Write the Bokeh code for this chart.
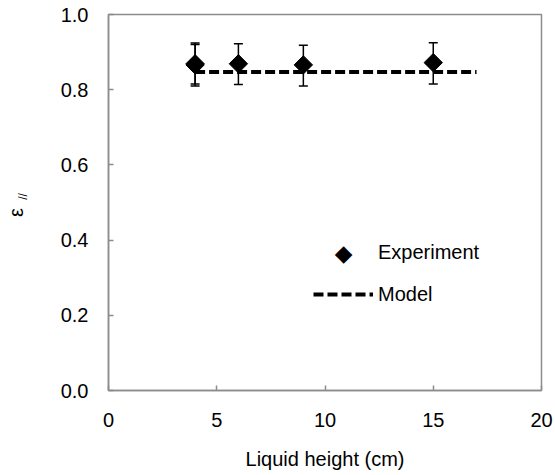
import math
from bokeh.plotting import figure
from bokeh.models import (ColumnDataSource, Whisker, TeeHead, Legend, LegendItem, Label,
                          FixedTicker, Range1d, LinearAxis)
from bokeh.embed import file_html
from bokeh.resources import INLINE

# data
exp_x = [4, 4, 6, 9, 15]
exp_y = [0.866, 0.869, 0.869, 0.866, 0.872]
exp_upper = [0.924, 0.920, 0.922, 0.918, 0.925]
exp_lower = [0.810, 0.815, 0.814, 0.810, 0.815]
model_x = [4, 17]
model_y = [0.847, 0.847]
x_ticks = [0, 5, 10, 15, 20]
y_ticks = [0.0, 0.2, 0.4, 0.6, 0.8, 1.0]
y_tick_labels = {0.0: "0.0", 0.2: "0.2", 0.4: "0.4", 0.6: "0.6", 0.8: "0.8", 1.0: "1.0"}

FONT = "Liberation Sans"
GRAY = "#8c8c8c"

p = figure(width=555, height=475, output_backend="svg", toolbar_location=None,
           x_range=Range1d(0, 20), y_range=Range1d(0, 1.0),
           min_border_left=108, min_border_right=14, min_border_top=14, min_border_bottom=85)
p.xgrid.visible = False
p.ygrid.visible = False
p.outline_line_color = GRAY
p.outline_line_width = 1.5

src = ColumnDataSource(dict(x=exp_x, y=exp_y, upper=exp_upper, lower=exp_lower))

w = Whisker(base="x", upper="upper", lower="lower", source=src, dimension="height",
            line_color="black", line_width=1.5,
            upper_head=TeeHead(size=9, line_color="black", line_width=1.5),
            lower_head=TeeHead(size=9, line_color="black", line_width=1.5))
p.add_layout(w)

model_r = p.line(model_x, model_y, line_color="black", line_width=4, line_dash="10 4")
exp_r = p.scatter("x", "y", source=src, marker="square", angle=math.pi / 4, size=13,
                  fill_color="black", line_color="black")
# transparent twin used only as the legend entry (its glyph is shown as a text diamond)
exp_leg = p.scatter("x", "y", source=src, marker="square", size=1,
                    fill_alpha=0, line_alpha=0)

legend = Legend(items=[LegendItem(label="Experiment", renderers=[exp_leg]),
                       LegendItem(label="Model", renderers=[model_r])],
                location=(205, 84), glyph_width=60, glyph_height=24, label_height=24,
                spacing=18, label_standoff=5, padding=0, margin=0,
                border_line_alpha=0, background_fill_alpha=0,
                label_text_font=FONT, label_text_font_size="20px", label_text_color="black")
p.add_layout(legend)
p.add_layout(Label(x=235, y=138, x_units="screen", y_units="screen", text="◆",
                   text_align="center", text_baseline="middle",
                   text_font="DejaVu Sans", text_font_size="23px", text_color="black"))

for ax in (p.xaxis[0], p.yaxis[0]):
    ax.axis_line_color = GRAY
    ax.axis_line_width = 1.5
    ax.major_tick_line_color = GRAY
    ax.major_tick_line_width = 1.5
    ax.major_tick_in = 5
    ax.major_tick_out = 0
    ax.minor_tick_line_color = None
    ax.major_label_text_font = FONT
    ax.major_label_text_font_size = "20px"
    ax.major_label_text_color = "black"

p.xaxis.ticker = FixedTicker(ticks=x_ticks)
p.yaxis.ticker = FixedTicker(ticks=y_ticks)
p.yaxis.major_label_overrides = y_tick_labels
p.xaxis.major_label_standoff = 22
p.yaxis.major_label_standoff = 20
p.xaxis.axis_label = "Liquid height (cm)"
p.xaxis.axis_label_text_font = FONT
p.xaxis.axis_label_text_font_size = "20px"
p.xaxis.axis_label_text_font_style = "normal"
p.xaxis.axis_label_text_color = "black"
p.xaxis.axis_label_standoff = 18

# y label: subscript "//" on the inner axis, "ε" on an outer label-only axis
p.yaxis.axis_label = "\u2003//"
p.yaxis.axis_label_text_font = FONT
p.yaxis.axis_label_text_font_size = "12px"
p.yaxis.axis_label_text_font_style = "normal"
p.yaxis.axis_label_text_color = "black"
p.yaxis.axis_label_standoff = 28

eps_axis = LinearAxis(ticker=FixedTicker(ticks=[]), axis_line_color=None,
                      major_tick_line_color=None, minor_tick_line_color=None,
                      axis_label="ε\u2003", axis_label_text_font=FONT,
                      axis_label_text_font_size="20px", axis_label_text_font_style="normal",
                      axis_label_text_color="black", axis_label_standoff=-14)
p.add_layout(eps_axis, "left")

open("out.html", "w").write(file_html(p, INLINE))
